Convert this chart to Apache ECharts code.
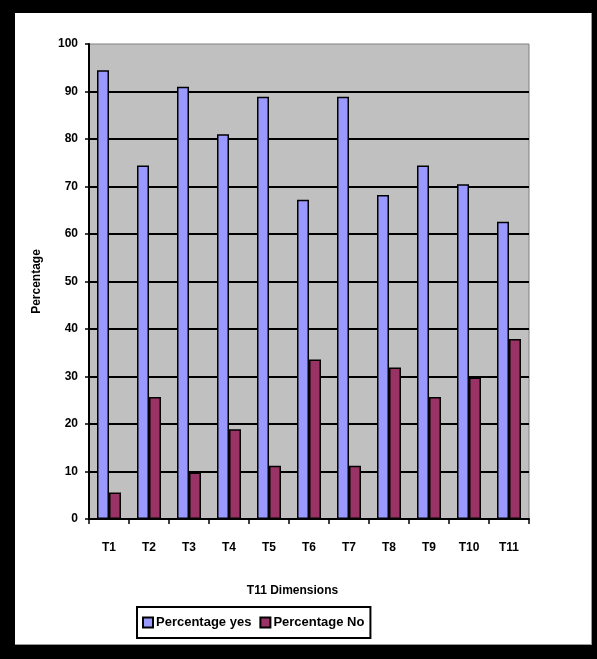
<!DOCTYPE html>
<html>
<head>
<meta charset="utf-8">
<script src="https://cdn.jsdelivr.net/npm/echarts@6/dist/echarts.min.js"></script>
<style>
html,body{margin:0;padding:0;background:#000;width:597px;height:659px;overflow:hidden;}
#panel{position:absolute;left:15px;top:13px;width:576px;height:631px;background:#fff;border-right:1px solid #999;border-bottom:1px solid #999;}
#chart{position:absolute;left:0;top:0;width:576px;height:631px;}
</style>
</head>
<body>
<div id="panel"><div id="chart"></div></div>
<script>
const categories = ['T1','T2','T3','T4','T5','T6','T7','T8','T9','T10','T11'];
const percentageYes = [94.5, 74.4, 91.0, 81.0, 88.9, 67.2, 88.9, 68.2, 74.4, 70.5, 62.6];
const percentageNo  = [5.6, 25.7, 9.8, 18.9, 11.2, 33.6, 11.2, 31.9, 25.7, 29.8, 37.9];
const seriesNames = ['Percentage yes', 'Percentage No'];
const yTicks = {min: 0, max: 100, interval: 10};

const font = 'Liberation Sans, Arial, sans-serif';
const chart = echarts.init(document.getElementById('chart'), null, {renderer: 'canvas'});
chart.setOption({
  animation: false,
  backgroundColor: '#fff',
  grid: {
    left: 74, top: 31, width: 440, height: 475,
    show: true, backgroundColor: '#c0c0c0', borderColor: '#808080', borderWidth: 1,
    containLabel: false
  },
  legend: {
    left: 122, top: 594,
    orient: 'horizontal',
    data: seriesNames,
    borderColor: '#000', borderWidth: 2,
    padding: [9, 6, 9, 5],
    itemWidth: 10, itemHeight: 10, itemGap: 8,
    icon: 'rect',
    textStyle: {fontFamily: font, fontSize: 13, fontWeight: 'bold', color: '#000', padding: [0, 0, 0, -2]}
  },
  xAxis: {
    type: 'category',
    data: categories,
    name: 'T11 Dimensions',
    nameLocation: 'middle',
    nameGap: 66,
    nameTextStyle: {fontFamily: font, fontSize: 12, fontWeight: 'bold', color: '#000', padding: [0, 33, 0, 0]},
    axisLine: {lineStyle: {color: '#000', width: 2}},
    axisTick: {show: true, length: 5, lineStyle: {color: '#000', width: 1.5}},
    axisLabel: {fontFamily: font, fontSize: 12, fontWeight: 'bold', color: '#000', margin: 23}
  },
  yAxis: {
    type: 'value',
    min: yTicks.min, max: yTicks.max, interval: yTicks.interval,
    name: 'Percentage',
    nameLocation: 'middle',
    nameGap: 46,
    nameRotate: 90,
    nameTextStyle: {fontFamily: font, fontSize: 12, fontWeight: 'bold', color: '#000'},
    axisLine: {show: true, lineStyle: {color: '#000', width: 2}},
    axisTick: {show: true, length: 4, lineStyle: {color: '#000', width: 1.5}},
    axisLabel: {fontFamily: font, fontSize: 12, fontWeight: 'bold', color: '#000', margin: 11},
    splitLine: {show: true, showMaxLine: false, lineStyle: {color: '#000', width: 2}}
  },
  series: [
    {
      name: seriesNames[0], type: 'bar', data: percentageYes,
      barGap: '0%', barCategoryGap: '40%',
      itemStyle: {color: '#9999ff', borderColor: '#000', borderWidth: 1.5}
    },
    {
      name: seriesNames[1], type: 'bar', data: percentageNo,
      barGap: '0%', barCategoryGap: '40%',
      itemStyle: {color: '#993366', borderColor: '#000', borderWidth: 1.5}
    }
  ]
});
</script>
</body>
</html>
